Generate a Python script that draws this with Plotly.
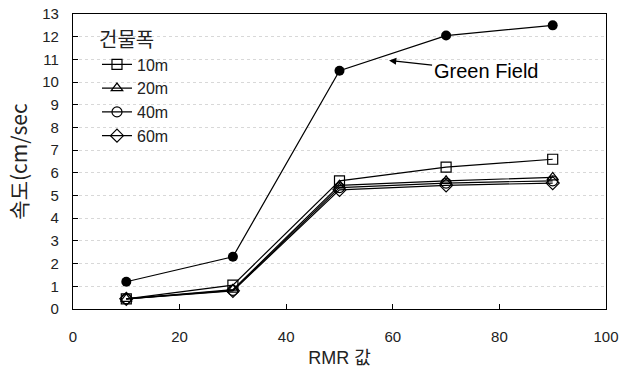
import plotly.graph_objects as go

rmr = [10, 30, 50, 70, 90]
green_field = [1.2, 2.3, 10.5, 12.05, 12.5]
w10 = [0.45, 1.05, 5.65, 6.25, 6.6]
w20 = [0.45, 0.85, 5.45, 5.65, 5.8]
w40 = [0.45, 0.82, 5.35, 5.55, 5.65]
w60 = [0.45, 0.8, 5.25, 5.45, 5.55]
series_names = ["10m", "20m", "40m", "60m"]
x_ticks = [0, 20, 40, 60, 80, 100]
y_ticks = list(range(0, 14))

FONT = "Liberation Sans, Arial, Noto Sans CJK KR, sans-serif"

fig = go.Figure()
fig.add_trace(go.Scatter(x=rmr, y=green_field, mode="lines+markers", showlegend=False,
                         line=dict(color="black", width=1.2),
                         marker=dict(symbol="circle", size=10, color="black")))
symbols = ["square-open", "triangle-up-open", "circle-open", "diamond-open"]
for name, vals, sym in zip(series_names, [w10, w20, w40, w60], symbols):
    fig.add_trace(go.Scatter(x=rmr, y=vals, mode="lines+markers", name=name,
                             line=dict(color="black", width=1.2),
                             marker=dict(symbol=sym, size=10, color="black",
                                         line=dict(width=1.2, color="black"))))

fig.add_annotation(x=59.3, y=10.95, xref="x", yref="y", ax=77.5, ay=10.5, axref="x", ayref="y",
                   text="Green Field", showarrow=True, arrowhead=2, arrowsize=1.2, arrowwidth=1.2,
                   arrowcolor="black", font=dict(size=20, color="black", family=FONT))

fig.update_layout(
    width=628, height=376,
    margin=dict(l=73, r=22, t=14, b=67),
    paper_bgcolor="white", plot_bgcolor="white",
    font=dict(family=FONT, color="#222", size=15),
    legend=dict(x=0.045, y=0.975, xanchor="left", yanchor="top",
                title=dict(text="건물폭", font=dict(size=20, family="Noto Sans CJK KR")),
                bgcolor="rgba(0,0,0,0)", font=dict(size=16), tracegroupgap=0, itemwidth=30),
    xaxis=dict(range=[0, 100], tickvals=x_ticks, ticks="inside", ticklen=5, tickcolor="black",
               showline=True, linecolor="black", linewidth=1.2, mirror=True,
               showgrid=False, zeroline=False, automargin=False, ticklabelstandoff=14,
               title=dict(text="RMR 값", font=dict(size=18, family=FONT), standoff=7),
               tickfont=dict(size=15)),
    yaxis=dict(range=[0, 13], tickvals=y_ticks, ticks="inside", ticklen=5, tickcolor="black",
               showline=True, linecolor="black", linewidth=1.2, mirror=True,
               showgrid=True, gridcolor="#d8d8d8", griddash="dot", gridwidth=1, zeroline=False,
               automargin=False, ticklabelstandoff=10,
               title=dict(text="속도(cm/sec", font=dict(size=21, family="Noto Sans CJK KR"), standoff=8),
               tickfont=dict(size=15)),
)

fig.write_html("out.html")
